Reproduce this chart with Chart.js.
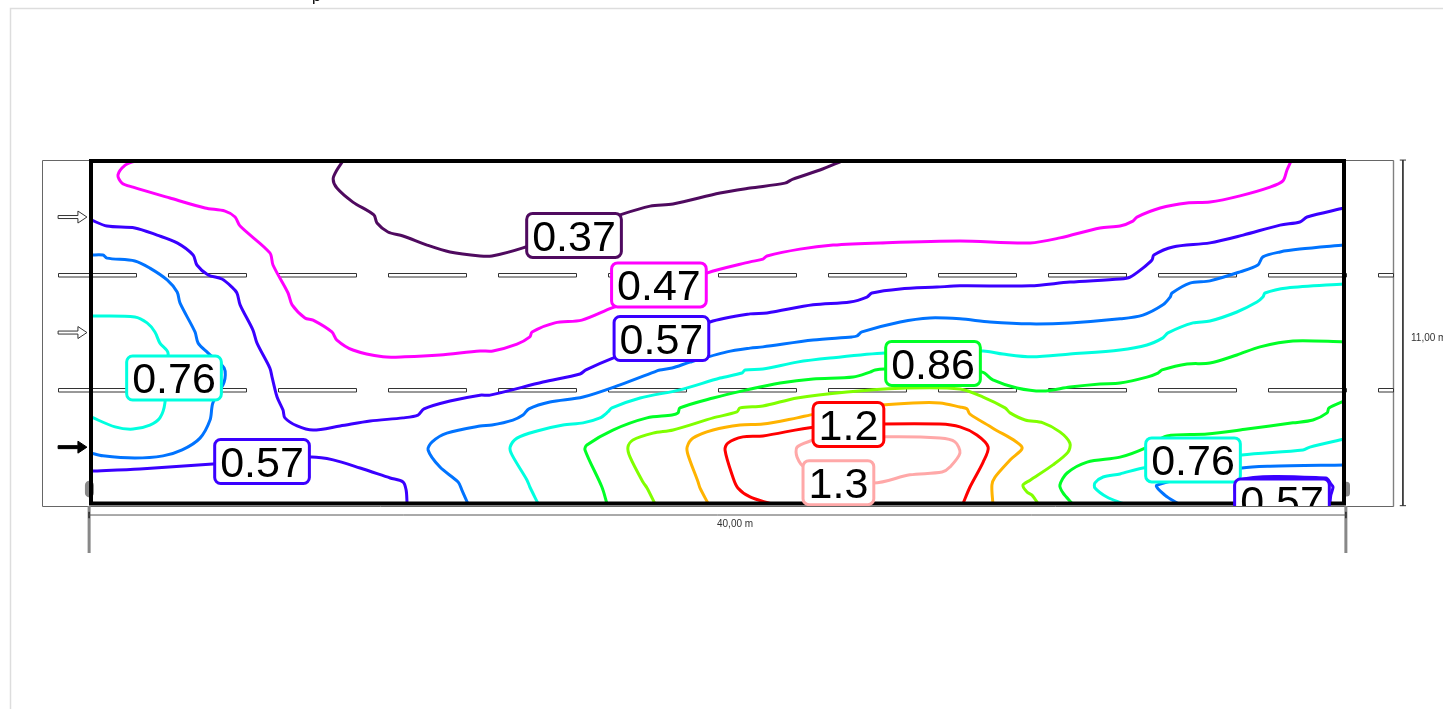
<!DOCTYPE html>
<html><head><meta charset="utf-8">
<style>html,body{margin:0;padding:0;background:#fff;overflow:hidden}canvas{display:block;position:absolute;left:0;top:0}</style>
<script src="https://cdn.jsdelivr.net/npm/chart.js@4"></script>
</head><body><canvas id="c" width="1443" height="709"></canvas>
<script>
// Contour lines, positions in metres within the 40 x 11 m room
const line037=[[8.04,11],[7.85,10.71],[7.73,10.42],[7.85,10.13],[8.36,9.68],[9.03,9.27],[9.13,9.01],[9.48,8.72],[9.96,8.59],[10.73,8.30],[11.46,8.08],[12.42,7.95],[12.80,7.95],[13.79,8.21],[16.89,9.27],[17.85,9.55],[18.58,9.62],[20.08,9.97],[21.04,10.13],[22.15,10.29],[22.41,10.42],[23.27,10.71],[23.97,11]];
const line047=[[1.40,11],[1.09,10.87],[0.86,10.55],[0.99,10.29],[1.34,10.16],[2.52,9.81],[3.64,9.49],[4.28,9.39],[4.60,9.20],[4.76,8.91],[5.71,8.05],[5.81,7.66],[6.29,6.76],[6.42,6.38],[6.83,5.96],[7.09,5.89],[7.69,5.51],[7.85,5.25],[8.36,4.93],[9.32,4.71],[10.02,4.71],[11.14,4.77],[12.42,4.90],[12.83,4.90],[13.60,5.12],[14.01,5.35],[14.08,5.51],[14.81,5.80],[15.67,5.89],[16.63,6.28],[19.66,7.40],[21.04,7.76],[21.45,7.85],[21.58,7.95],[22.63,8.17],[23.69,8.30],[25.19,8.37],[27.74,8.43],[29.98,8.37],[30.93,8.53],[32.21,8.85],[32.85,8.91],[33.26,9.07],[33.39,9.20],[34.13,9.49],[34.99,9.65],[35.72,9.68],[36.68,9.88],[37.64,10.16],[38.05,10.36],[38.18,10.71],[38.31,11]];
const line057a=[[0,9.11],[0.51,8.91],[1.40,8.85],[2.11,8.62],[2.75,8.37],[3.26,7.98],[3.38,7.66],[3.74,7.34],[4.18,7.21],[4.50,6.95],[4.66,6.76],[4.76,6.38],[5.17,5.57],[5.30,5.15],[5.71,4.35],[5.78,4.06],[5.94,3.42],[6.13,3.00],[6.19,2.75],[6.58,2.49],[7.09,2.36],[7.95,2.49],[8.91,2.65],[9.96,2.75],[10.44,2.84],[10.63,3.04],[11.46,3.29],[12.42,3.48],[12.74,3.48],[14.43,3.90],[15.61,4.16],[15.80,4.29],[16.66,4.67],[19.76,5.83],[21.04,6.09],[21.58,6.12],[23.05,6.38],[24.23,6.47],[24.77,6.63],[24.93,6.76],[25.83,6.89],[27.01,6.95],[27.74,6.99],[29.98,6.99],[31.25,7.11],[32.85,7.21],[33.17,7.27],[33.58,7.56],[33.87,7.82],[33.93,7.98],[34.54,8.24],[35.72,8.37],[36.78,8.62],[37.96,8.94],[38.59,9.04],[38.82,9.20],[40,9.49]];
const line057b=[[0,1.04],[1.56,1.11],[3.89,1.27],[6.99,1.49],[7.73,1.40],[8.59,1.14],[9.55,0.82],[9.96,0.69],[10.06,0.43],[10.09,0]];
const line057c=[[36.55,0],[36.62,0.75],[39.42,0.82],[39.58,0.63],[39.65,0.53],[39.58,0.27],[39.55,0]];
const line066a=[[0,7.98],[0.38,7.98],[0.51,7.88],[1.40,7.79],[1.88,7.56],[2.43,7.18],[2.75,6.79],[2.84,6.44],[3.32,5.51],[3.42,5.15],[3.74,4.83],[4.25,4.35],[4.25,3.90],[3.89,3.23],[3.80,2.68],[3.48,2.10],[2.91,1.72],[2.30,1.53],[1.40,1.46],[0.38,1.53],[0,1.62]];
const line066b=[[12.03,0],[11.84,0.43],[11.72,0.69],[11.14,1.17],[10.76,1.72],[10.89,1.98],[11.36,2.26],[12.42,2.49],[12.80,2.52],[13.47,2.68],[13.79,2.84],[13.98,3.04],[14.65,3.26],[15.71,3.42],[16.89,3.81],[18.07,4.26],[18.16,4.29],[18.55,4.35],[19.12,4.54],[20.30,4.87],[21.04,4.99],[21.45,5.03],[23.05,5.25],[24.29,5.35],[24.45,5.38],[24.61,5.51],[25.83,5.83],[26.78,5.96],[27.74,5.93],[28.70,5.83],[29.98,5.77],[31.25,5.80],[32.85,5.93],[33.58,6.05],[34.22,6.38],[34.45,6.63],[34.51,6.76],[35.08,7.08],[35.72,7.15],[36.68,7.44],[37.25,7.66],[37.41,7.92],[37.96,8.08],[38.59,8.17],[40,8.30]];
const line066c=[[34.70,0],[34.28,0.27],[34.03,0.59],[36.74,1.14],[37.64,1.20],[40,1.24]];
const line076a=[[0,6.02],[1.40,5.99],[1.79,5.80],[2.04,5.51],[2.20,5.15],[2.46,4.83],[2.36,3.23],[2.20,2.75],[1.88,2.52],[1.34,2.39],[0.77,2.46],[0,2.78]];
const line076b=[[14.27,0],[14.01,0.53],[13.92,0.75],[13.44,1.56],[13.38,1.81],[13.60,2.10],[14.24,2.33],[15.07,2.52],[15.71,2.59],[16.25,2.75],[16.50,2.94],[16.63,3.07],[17.53,3.39],[18.80,3.65],[20.08,4.03],[20.78,4.19],[20.88,4.29],[21.45,4.32],[22.54,4.54],[23.59,4.67],[25.35,4.83],[28.48,4.90],[29.11,4.80],[30.04,4.71],[31.25,4.80],[32.85,4.93],[33.71,5.09],[34.22,5.32],[34.38,5.48],[35.18,5.80],[35.72,5.86],[36.58,6.15],[37.22,6.47],[37.41,6.63],[37.48,6.76],[38.18,6.92],[40,7.05]];
const line076c=[[32.94,0],[32.43,0.21],[32.05,0.50],[32.05,0.66],[32.31,0.85],[32.85,0.95],[33.58,1.14],[36.74,1.56],[38.69,1.72],[38.91,1.81],[40,2.07]];
const line086a=[[16.47,0],[16.31,0.53],[15.77,1.72],[15.83,1.88],[16.66,2.36],[17.75,2.75],[18.55,2.84],[18.74,2.91],[18.80,3.07],[19.86,3.39],[20.94,3.65],[22.00,3.87],[23.05,4.00],[24.33,4.06],[24.87,4.22],[25.03,4.29],[25.35,4.32],[28.44,4.22],[28.79,3.97],[29.56,3.71],[30.39,3.61],[31.25,3.74],[32.21,3.84],[32.85,3.87],[33.71,4.06],[34.06,4.19],[34.19,4.29],[34.99,4.48],[35.72,4.51],[36.58,4.77],[37.32,5.03],[38.37,5.22],[40,5.19]];
const line086b=[[31.32,0],[31.03,0.34],[30.93,0.59],[31.16,0.98],[31.80,1.33],[32.85,1.49],[33.65,1.78],[34.35,2.17],[35.63,2.23],[36.90,2.39],[38.37,2.59],[39.01,2.68],[39.46,2.91],[39.52,3.07],[40,3.29]];
const line095=[[18.00,0],[17.75,0.50],[17.62,0.69],[17.21,1.49],[17.14,1.81],[17.30,2.04],[17.94,2.26],[18.58,2.36],[19.86,2.75],[20.62,2.94],[20.72,3.07],[21.45,3.13],[22.54,3.39],[24.13,3.58],[26.05,3.71],[27.74,3.68],[28.48,3.42],[29.18,3.07],[29.34,2.91],[29.82,2.68],[30.39,2.59],[30.93,2.30],[31.25,1.94],[31.19,1.65],[30.71,1.24],[29.98,0.75],[29.75,0.59],[29.88,0.37],[30.04,0.27],[30.23,0]];
const line105=[[19.70,0],[19.44,0.50],[19.38,0.69],[19.06,1.56],[19.03,1.81],[19.22,2.10],[19.86,2.36],[20.72,2.52],[21.45,2.55],[22.54,2.75],[23.11,2.87],[25.25,3.16],[26.24,3.23],[27.10,3.23],[27.74,3.10],[27.96,3.04],[28.06,2.87],[28.79,2.42],[29.72,1.81],[29.34,1.40],[28.86,0.85],[28.76,0.59],[28.79,0]];
const line120=[[21.68,0],[21.04,0.21],[20.65,0.50],[20.49,0.85],[20.24,1.72],[20.33,1.94],[20.81,2.14],[21.45,2.17],[23.11,2.46],[25.25,2.55],[27.10,2.55],[27.74,2.46],[28.28,2.20],[28.64,1.81],[28.48,1.33],[28.06,0.53],[27.84,0]];
const line130=[[23.05,2.04],[22.54,1.81],[22.54,1.49],[22.79,1.17],[24.93,0.66],[26.14,0.92],[27.17,1.01],[27.42,1.17],[27.74,1.62],[27.58,1.98],[27.10,2.10],[25.41,2.14],[23.05,2.04]];

// Contour value labels
const labelTexts=["0.37","0.47","0.57","0.86","0.76","0.57","1.2","1.3","0.76","0.57"];
const labelX=[15.42,18.13,18.21,26.88,2.65,5.46,24.18,23.86,35.18,38.02];
const labelY=[8.61,7.02,5.30,4.50,4.03,1.35,2.54,0.67,1.40,0.08];

// Room geometry in metres
const roomWidth=40, roomHeight=11;
const dashStarts=[-1.05,2.46,5.97,9.48,12.99,16.50,20.02,23.53,27.04,30.55,34.06,37.57,41.08];
const dashEnds=[1.44,4.95,8.46,11.97,15.48,18.99,22.51,26.02,29.53,33.04,36.55,40.06,41.56];
const dashRows=[7.34,3.64];
const arrowRows=[9.20,5.49,1.81];
const dimensionTexts=["40,00 m","11,00 m"];

const COLORS={v037:'#4f0a5f',v047:'#ff00ff',v057:'#3a00ff',v066:'#0073ff',v076:'#00ffdf',v086:'#00ff26',v095:'#80ff00',v105:'#ffb300',v120:'#ff0000',v130:'#ffa8a8'};
const labelColors=[COLORS.v037,COLORS.v047,COLORS.v057,COLORS.v086,COLORS.v076,COLORS.v057,COLORS.v120,COLORS.v130,COLORS.v076,COLORS.v057];

const pts=a=>a.map(p=>({x:p[0],y:p[1]}));
const contour=(a,c)=>({data:pts(a),borderColor:c,borderWidth:3,tension:0.3,showLine:true,pointRadius:0,clip:false,fill:false,borderCapStyle:'round',borderJoinStyle:'round'});
const straight=(a,c,w,cap)=>({data:pts(a),borderColor:c,borderWidth:w,tension:0,showLine:true,pointRadius:0,clip:false,fill:false,borderCapStyle:cap||'butt',borderJoinStyle:'miter'});

const datasets=[
 straight([[0,0],[0,roomHeight],[roomWidth,roomHeight],[roomWidth,0],[0,0],[0,roomHeight]],'#000',4,'square'),
 contour(line037,COLORS.v037),contour(line047,COLORS.v047),
 contour(line057a,COLORS.v057),contour(line057b,COLORS.v057),contour(line057c,COLORS.v057),
 contour(line066a,COLORS.v066),contour(line066b,COLORS.v066),contour(line066c,COLORS.v066),
 contour(line076a,COLORS.v076),contour(line076b,COLORS.v076),contour(line076c,COLORS.v076),
 contour(line086a,COLORS.v086),contour(line086b,COLORS.v086),
 contour(line095,COLORS.v095),contour(line105,COLORS.v105),contour(line120,COLORS.v120),contour(line130,COLORS.v130),
 straight([[-0.06,-0.37],[40.06,-0.37]],'#555',1),
 straight([[-0.06,-0.27],[-0.06,-0.47]],'#333',1),
 straight([[40.06,-0.27],[40.06,-0.47]],'#333',1),
 straight([[41.88,11.03],[41.88,-0.07]],'#333',1),
 straight([[41.78,11.03],[41.98,11.03]],'#333',1),
 straight([[41.78,-0.07],[41.98,-0.07]],'#333',1),
 straight([[-0.06,-0.08],[-0.06,-1.59]],'#888',3),
 straight([[40.06,-0.08],[40.06,-1.59]],'#888',3),
 straight([[-0.05,0.59],[-0.05,0.34]],'#888',9,'round'),
 straight([[40.08,0.59],[40.08,0.34]],'#888',7,'round')
];

const background={id:'background',beforeDatasetsDraw(chart){
 const c=chart.ctx,X=chart.scales.x,Y=chart.scales.y;
 c.save();
 c.strokeStyle='#dddddd';c.lineWidth=1.5;c.beginPath();c.moveTo(10.5,709);c.lineTo(10.5,8.5);c.lineTo(1443,8.5);c.stroke();
 c.fillStyle='#000';c.font='16px "Liberation Sans"';c.textAlign='left';c.textBaseline='alphabetic';c.fillText('p',312,1);
 const rl=Math.round(X.getPixelForValue(-1.56))+0.5,rr=Math.round(X.getPixelForValue(41.56))+0.5,rt=Math.round(Y.getPixelForValue(11.03))+0.5,rb=Math.round(Y.getPixelForValue(-0.07))+0.5;
 c.lineWidth=1;c.strokeStyle='#666';c.beginPath();c.rect(rl,rt,rr-rl,rb-rt);c.stroke();
 c.lineWidth=1.4;c.strokeStyle='#808080';c.beginPath();c.moveTo(rr,rt);c.lineTo(rr,rb);c.stroke();
 c.lineWidth=1;c.strokeStyle='#333';c.fillStyle='#fff';
 dashRows.forEach(r=>{const y=Math.round(Y.getPixelForValue(r))+0.5;
  dashStarts.forEach((s,i)=>{const a=Math.round(X.getPixelForValue(s))+0.5,b=Math.round(X.getPixelForValue(dashEnds[i]))+0.5;
   c.beginPath();c.rect(a,y-2,b-a,3.5);c.fill();c.stroke();});});
 arrowRows.forEach((r,i)=>{const y=Y.getPixelForValue(r),t=X.getPixelForValue(-0.13),s=X.getPixelForValue(-1.05);
  const black=i===2;
  c.beginPath();c.moveTo(s,y-1.5);c.lineTo(t-9,y-1.5);c.lineTo(t-9,y-6);c.lineTo(t,y);c.lineTo(t-9,y+6);c.lineTo(t-9,y+1.5);c.lineTo(s,y+1.5);c.closePath();
  c.fillStyle=black?'#000':'#fff';c.fill();c.strokeStyle=black?'#000':'#333';c.stroke();});
 c.fillStyle='#333';c.font='10px "Liberation Sans"';c.textAlign='center';c.textBaseline='middle';
 c.fillText(dimensionTexts[0],X.getPixelForValue(20.56),524);
 c.textAlign='left';c.fillText(dimensionTexts[1],1411,338);
 c.restore();
}};
const labels={id:'labels',afterDatasetsDraw(chart){
 const c=chart.ctx,X=chart.scales.x,Y=chart.scales.y;
 c.save();
 c.beginPath();c.rect(0,0,1443,Y.getPixelForValue(0)+2.5);c.clip();
 c.font='43px "Liberation Sans"';c.textAlign='center';c.textBaseline='middle';
 labelTexts.forEach((t,i)=>{const x=X.getPixelForValue(labelX[i]),y=Y.getPixelForValue(labelY[i]),w=c.measureText(t).width+11,h=44;
  c.beginPath();c.roundRect(x-w/2,y-h/2,w,h,6);c.fillStyle='#fff';c.fill();c.lineWidth=3;c.strokeStyle=labelColors[i];c.stroke();
  c.fillStyle='#000';c.fillText(t,x,y+3.5);});
 c.restore();
}};
new Chart(document.getElementById('c'),{type:'scatter',data:{datasets},plugins:[background,labels],options:{
 responsive:false,animation:false,devicePixelRatio:1,
 layout:{padding:{left:91,right:99,top:161,bottom:205.5}},
 plugins:{legend:{display:false},tooltip:{enabled:false},title:{display:false}},
 scales:{x:{type:'linear',min:0,max:roomWidth,display:false},y:{type:'linear',min:0,max:roomHeight,display:false}}
}});
</script></body></html>
